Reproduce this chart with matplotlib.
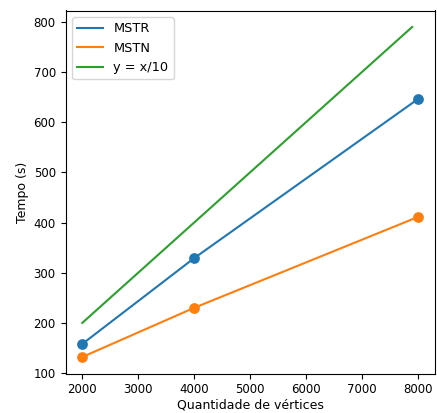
import matplotlib
matplotlib.use("Agg")
import matplotlib.pyplot as plt
import numpy as np

vertices = [2000, 4000, 8000]
mstr = [158, 329, 646]
mstn = [132, 230, 411]
ref_x = list(range(2000, 8000, 100))
ref_y = [v / 10 for v in ref_x]

plt.rcParams['font.size'] = 9

fig = plt.figure(figsize=(4.37, 4.13), dpi=100)
ax = fig.add_axes([65.5 / 437, 39.5 / 413, 369 / 437, 363 / 413])

l1, = ax.plot(vertices, mstr, color='#1f77b4', label='MSTR', lw=1.5)
ax.scatter(vertices, mstr, color='#1f77b4', s=45, zorder=3)
l2, = ax.plot(vertices, mstn, color='#ff7f0e', label='MSTN', lw=1.5)
ax.scatter(vertices, mstn, color='#ff7f0e', s=45, zorder=3)
l3, = ax.plot(ref_x, ref_y, color='#2ca02c', label='y = x/10', lw=1.5)

ax.set_xticks([2000, 3000, 4000, 5000, 6000, 7000, 8000])
ax.set_yticks([100, 200, 300, 400, 500, 600, 700, 800])
ax.tick_params(labelsize=8.5)
ax.set_xlabel('Quantidade de vértices', labelpad=2)
ax.set_ylabel('Tempo (s)', labelpad=3)
ax.legend(handles=[l1, l2, l3], loc='upper left', fontsize=9.3)

fig.savefig('out.png', dpi=100)
